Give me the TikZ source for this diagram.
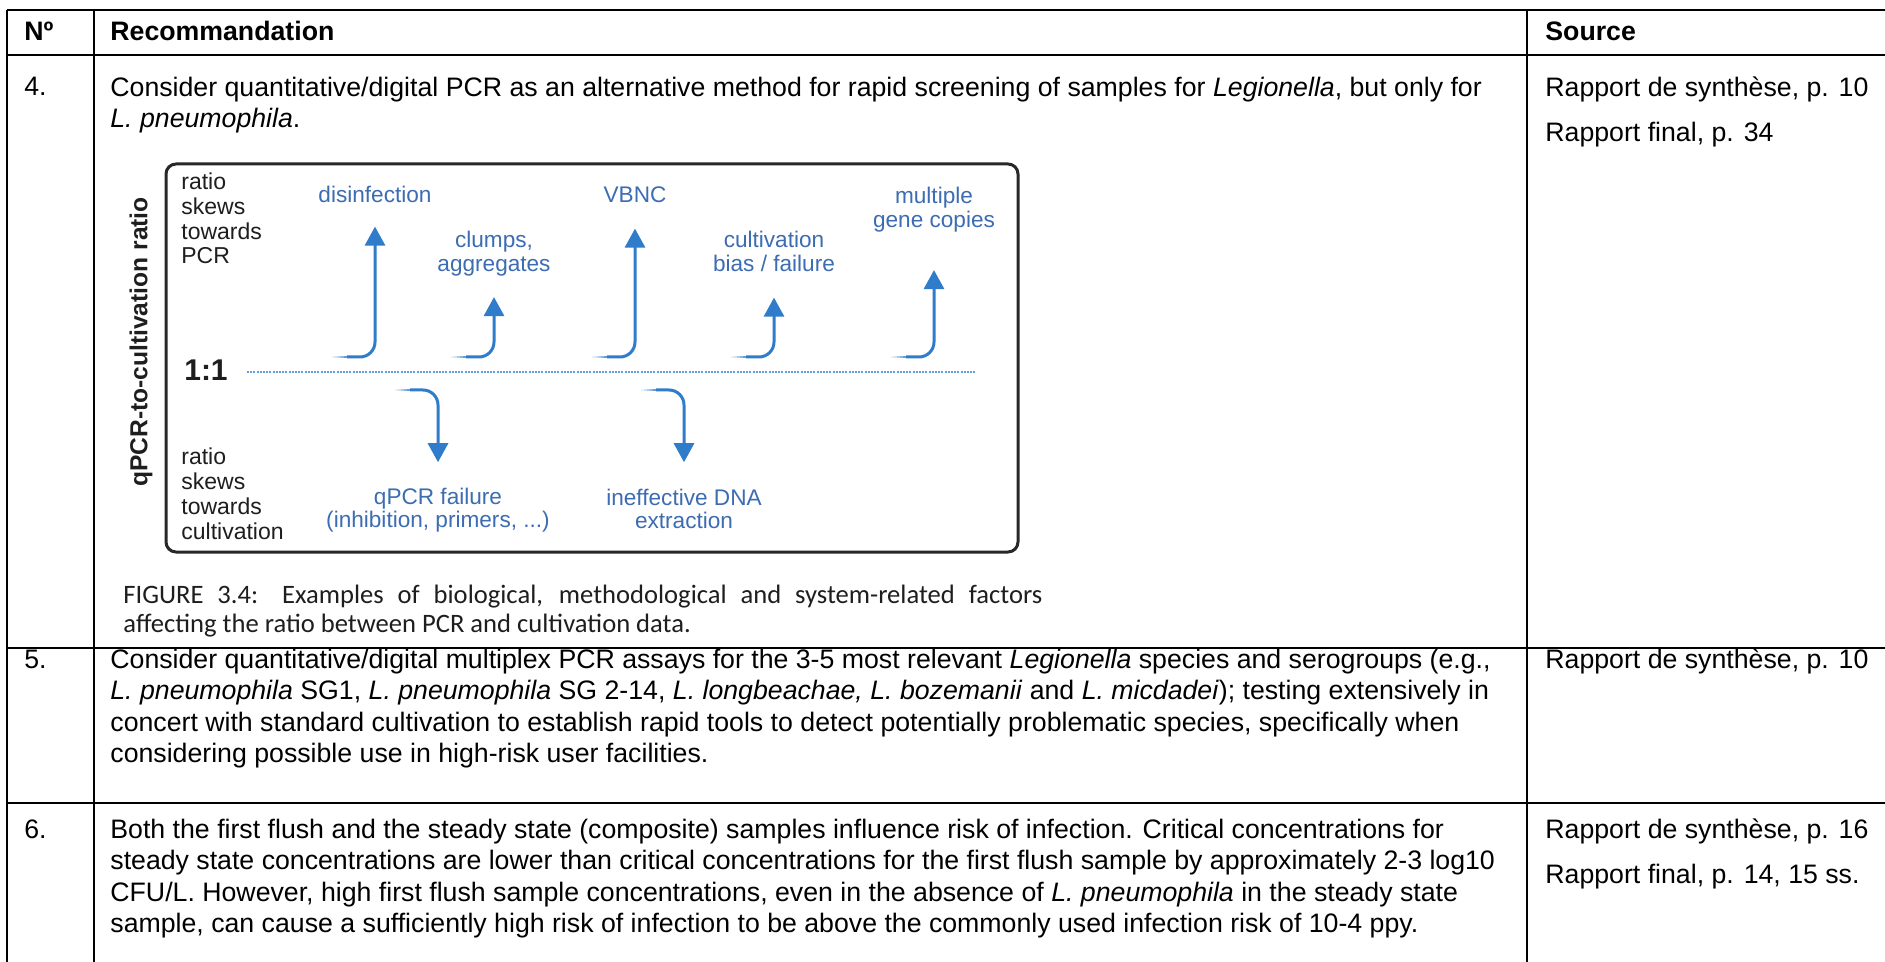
\documentclass[tikz,border=0pt]{standalone}
\usepackage{fontspec}
\setmainfont{Liberation Sans}
\newfontfamily\capfont{Carlito}
\usepackage{tikz}
\usetikzlibrary{arrows.meta}
\definecolor{labblue}{RGB}{60,108,178}
\definecolor{arrblue}{RGB}{47,124,202}
\definecolor{figink}{RGB}{30,30,30}
\definecolor{boxink}{RGB}{40,40,40}
\newcommand{\fadetail}[1]{%
	\foreach \k/\op in {0/0.75,1/0.55,2/0.38,3/0.22,4/0.1}
		\draw[arrblue,line width=1.3pt,draw opacity=\op] (#1) ++(-3*\k,0) -- ++(-3,0);}

\begin{document}
\begin{tikzpicture}[x=0.5pt,y=-0.5pt,
	cell/.style={anchor=base west,inner sep=0pt,align=left,font=\fontsize{13.35}{15.75}\selectfont},
	head/.style={cell,font=\fontsize{13.35}{15.75}\selectfont\bfseries},
	rule/.style={line width=1pt},
	side/.style={anchor=base west,inner sep=0pt,align=left,text=figink,font=\fontsize{11.5}{12.35}\selectfont},
	factor/.style={anchor=base,inner sep=0pt,align=center,text=labblue,font=\fontsize{11.3}{12}\selectfont},
	riser/.style={draw=arrblue,line width=1.5pt,rounded corners=7.5pt,-{Triangle[width=10pt,length=9.5pt]}}]
	\useasboundingbox (0,0) rectangle (1885,962);
	\fill[white] (0,0) rectangle (1885,962);

	\foreach \y in {10,55,648,803} \draw[rule] (7,\y) -- (1885,\y);
	\foreach \x in {7,94,1527} \draw[rule] (\x,10) -- (\x,962);

	\node[head] (hno) at (24,41) {Nº};
	\node[head] (hrec) at (110,41) {Recommandation};
	\node[head] (hsrc) at (1545,41) {Source};

	\node[cell] (n4) at (24,96) {4.};
	\node[cell] (r4) at (110,128) {Consider quantitative/digital PCR as an alternative method for rapid screening of samples for \textit{Legionella}, but only for\\\textit{L. pneumophila}.};
	\node[cell] (s4) at (1545,142) {Rapport de synthèse, p. 10\\[7pt]Rapport final, p. 34};

	\node[cell] (n5) at (24,668) {5.};
	\node[cell] (r5) at (110,762.5) {Consider quantitative/digital multiplex PCR assays for the 3-5 most relevant \textit{Legionella} species and serogroups (e.g.,\\\textit{L. pneumophila} SG1, \textit{L. pneumophila} SG 2-14, \textit{L. longbeachae, L. bozemanii} and \textit{L. micdadei}); testing extensively in\\concert with standard cultivation to establish rapid tools to detect potentially problematic species, specifically when\\considering possible use in high-risk user facilities.};
	\node[cell] (s5) at (1545,668) {Rapport de synthèse, p. 10};

	\node[cell] (n6) at (24,838) {6.};
	\node[cell] (r6) at (110,932.5) {Both the first flush and the steady state (composite) samples influence risk of infection. Critical concentrations for\\steady state concentrations are lower than critical concentrations for the first flush sample by approximately 2-3 log10\\CFU/L. However, high first flush sample concentrations, even in the absence of \textit{L. pneumophila} in the steady state\\sample, can cause a sufficiently high risk of infection to be above the commonly used infection risk of 10-4 ppy.};
	\node[cell] (s6) at (1545,883.5) {Rapport de synthèse, p. 16\\[7pt]Rapport final, p. 14, 15 ss.};

	\draw[draw=boxink,line width=1.5pt,rounded corners=5pt] (166,164) rectangle (1018,552);
	\node[rotate=90,text=figink,font=\bfseries\fontsize{12.3}{12.3}\selectfont] (axis) at (141,342) {qPCR-to-cultivation ratio};
	\node[text=figink,inner sep=0pt,font=\bfseries\fontsize{15}{15}\selectfont] (one) at (206,370) {1:1};
	\node[side] (hi) at (181,264) {ratio\\skews\\towards\\PCR};
	\node[side] (lo) at (181,539) {ratio\\skews\\towards\\cultivation};

	\node[factor] (dis) at (375,203) {disinfection};
	\node[factor] (clu) at (494,272) {clumps,\\aggregates};
	\node[factor] (vbn) at (635,203) {VBNC};
	\node[factor] (cul) at (774,272) {cultivation\\bias / failure};
	\node[factor] (mul) at (934,228) {multiple\\gene copies};
	\node[factor] (qpf) at (438,528) {qPCR failure\\(inhibition, primers, ...)};
	\node[factor] (ine) at (684,529) {ineffective DNA\\extraction};

	\coordinate (d0) at (247,372);
	\coordinate (d1) at (975,372);
	\draw[arrblue!75,line width=1pt,dash pattern=on 1pt off 0.6pt] (d0) -- (d1);

	\coordinate (t1) at (347,357);
	\coordinate (t2) at (466,357);
	\coordinate (t3) at (607,357);
	\coordinate (t4) at (746,357);
	\coordinate (t5) at (906,357);
	\coordinate (t6) at (410,390);
	\coordinate (t7) at (656,390);

	\draw[riser,shorten >=11.5pt] (t1) -| (dis.south);
	\draw[riser,shorten >=10pt] (t2) -| (clu.south);
	\draw[riser,shorten >=12.5pt] (t3) -| (vbn.south);
	\draw[riser,shorten >=12.5pt] (t4) -| (cul.south);
	\draw[riser,shorten >=18.5pt] (t5) -| (mul.south);
	\draw[riser,shorten >=12.5pt] (t6) -| (qpf.north);
	\draw[riser,shorten >=13pt] (t7) -| (ine.north);
	\foreach \t in {t1,t2,t3,t4,t5,t6,t7} \fadetail{\t};

	\node[anchor=base west,inner sep=0pt,align=left,text=figink,font=\capfont\fontsize{13.3}{14}\selectfont] (cap) at (123,632) {\makebox[459.5pt][s]{FIGURE 3.4: Examples of biological, methodological and system-related factors}\\affecting the ratio between PCR and cultivation data.};
\end{tikzpicture}
\end{document}
